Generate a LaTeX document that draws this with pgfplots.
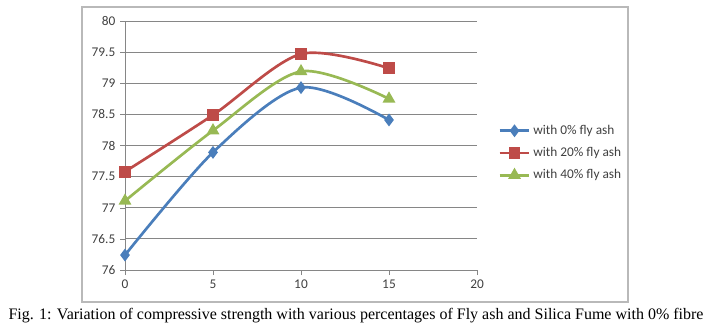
\documentclass[border=0pt]{standalone}
\usepackage{fontspec}
\setmainfont{Liberation Serif}
\newfontfamily\calibri{Carlito}
\usepackage{pgfplots}
\pgfplotsset{compat=1.18}
\definecolor{sblue}{RGB}{74,126,187}
\definecolor{sred}{RGB}{190,75,72}
\definecolor{sgreen}{RGB}{152,185,84}
\definecolor{gridc}{RGB}{134,134,134}
\definecolor{txt}{RGB}{64,64,64}
\begin{document}
\begin{tikzpicture}[x=0.75pt,y=0.75pt]
\path[use as bounding box] (0,0) rectangle (712,333);
\draw[color=gray!55, line width=1.2pt] (82,31) rectangle (628,326);
\begin{axis}[
  at={(93.75pt,47.25pt)}, anchor=south west,
  scale only axis, width=264pt, height=186.75pt,
  xmin=0, xmax=20, ymin=76, ymax=80,
  xtick={0,5,10,15,20}, ytick={76,76.5,...,80},
  axis x line=bottom, axis y line=left,
  axis line style={gridc, -}, 
  tick align=outside, major tick length=3.75pt,
  tick style={gridc},
  ymajorgrids, grid style={gridc, line width=0.6pt},
  /pgf/number format/assume math mode=true,
  ticklabel style={font=\calibri\fontsize{10}{12}\selectfont, text=txt},
  yticklabel style={/pgf/number format/fixed},
  legend style={at={(1.06,0.47)}, anchor=west, draw=none, fill=none,
    font=\calibri\fontsize{10}{12}\selectfont, text=txt,
    row sep=4.2pt, inner sep=0pt},
  legend cell align=left,
  legend image code/.code={\draw[mark repeat=2,mark phase=2,#1] plot coordinates {(0cm,0cm) (0.39cm,0cm) (0.78cm,0cm)};},
  clip=false,
]
\addplot[sblue, line width=2pt, smooth, mark=diamond*, mark size=3.2pt, mark options={solid}]
  coordinates {(0,76.24) (5,77.89) (10,78.93) (15,78.41)};
\addlegendentry{with 0\% fly ash}
\addplot[sred, line width=2pt, smooth, mark=square*, mark size=3.4pt]
  coordinates {(0,77.58) (5,78.49) (10,79.47) (15,79.24)};
\addlegendentry{with 20\% fly ash}
\addplot[sgreen, line width=2pt, smooth, mark=triangle*, mark size=3.6pt]
  coordinates {(0,77.11) (5,78.24) (10,79.19) (15,78.75)};
\addlegendentry{with 40\% fly ash}
\end{axis}
\node[font=\fontsize{12}{14}\selectfont] at (356,17) {Fig. 1: Variation of compressive strength with various percentages of Fly ash and Silica Fume with 0\% fibre};
\end{tikzpicture}
\end{document}
